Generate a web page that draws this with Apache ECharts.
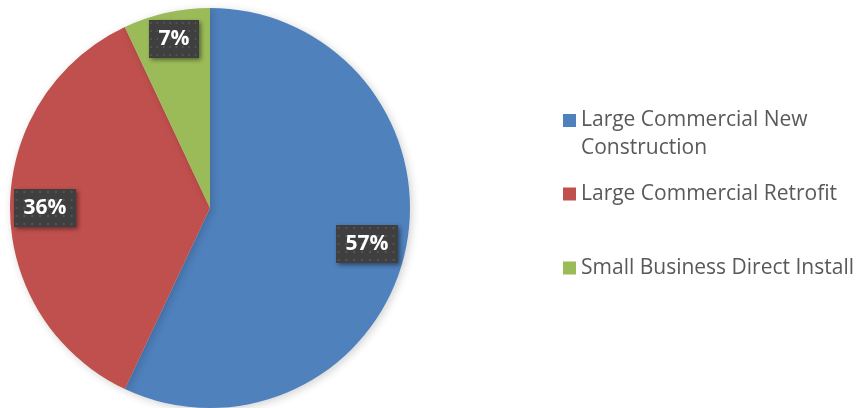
<!DOCTYPE html>
<html>
<head>
<meta charset="utf-8">
<script src="https://cdn.jsdelivr.net/npm/echarts@6/dist/echarts.min.js"></script>
<style>
html,body{margin:0;padding:0;background:#fff;}
#chart{width:856px;height:408px;}
</style>
</head>
<body>
<div id="chart"></div>
<script>
const categories = ["Large Commercial New\nConstruction", "Large Commercial Retrofit", "Small Business Direct Install"];
const values = [57, 36, 7];
const colors = ["#4F81BD", "#C0504D", "#9BBB59"];

// dotted dark label background
function makePattern(w, h) {
  const c = document.createElement('canvas');
  c.width = w; c.height = h;
  const g = c.getContext('2d');
  g.fillStyle = '#3f3f3f';
  g.fillRect(0, 0, w, h);
  g.fillStyle = '#555555';
  for (let y = 2; y < h; y += 8) {
    for (let x = 2; x < w; x += 8) {
      g.fillRect(x, y, 2, 2);
    }
  }
  return c;
}
const pat = makePattern(64, 38);

const chart = echarts.init(document.getElementById('chart'));
const pieData = categories.map((n, i) => ({ name: n, value: values[i], itemStyle: { color: colors[i] } }));

const legendText = { color: '#595959', fontSize: 21, fontFamily: 'Open Sans', lineHeight: 28 };

chart.setOption({
  animation: false,
  legend: [
    { data: [categories[0]], orient: 'vertical', left: 563, top: 106, padding: 0, itemWidth: 13, itemHeight: 41,
      icon: 'path://M0,0L13,0L13,13L0,13Z M0,40L0.05,40L0.05,40.05Z', textStyle: legendText },
    { data: [categories[1]], orient: 'vertical', left: 563, top: 180, padding: 0, itemWidth: 13, itemHeight: 13,
      icon: 'rect', textStyle: legendText },
    { data: [categories[2]], orient: 'vertical', left: 563, top: 254, padding: 0, itemWidth: 13, itemHeight: 13,
      icon: 'rect', textStyle: legendText }
  ],
  series: [
    {
      type: 'pie',
      center: [210, 208],
      radius: [0, 200],
      startAngle: 90,
      clockwise: true,
      label: { show: false },
      labelLine: { show: false },
      emphasis: { disabled: true },
      itemStyle: { shadowBlur: 8, shadowColor: 'rgba(0,0,0,0.18)', shadowOffsetX: 2, shadowOffsetY: 2 },
      data: pieData
    },
    {
      type: 'pie',
      center: [210, 208],
      radius: [124, 200],
      startAngle: 90,
      clockwise: true,
      silent: true,
      legendHoverLink: false,
      itemStyle: { color: 'rgba(0,0,0,0)' },
      emphasis: { disabled: true },
      label: {
        show: true,
        position: 'inside',
        formatter: '{d}%',
        color: '#ffffff',
        fontFamily: 'Open Sans',
        fontWeight: 'bold',
        fontSize: 21,
        padding: [9, 10, 8, 10],
        backgroundColor: { image: pat },
        shadowBlur: 4,
        shadowColor: 'rgba(0,0,0,0.45)',
        shadowOffsetX: 2,
        shadowOffsetY: 2
      },
      labelLine: { show: false },
      data: categories.map((n, i) => ({ name: n, value: values[i],
        label: i === 0 ? { offset: [-4, 0] } : (i === 2 ? { offset: [0, -8] } : {}) }))
    }
  ]
});
</script>
</body>
</html>
